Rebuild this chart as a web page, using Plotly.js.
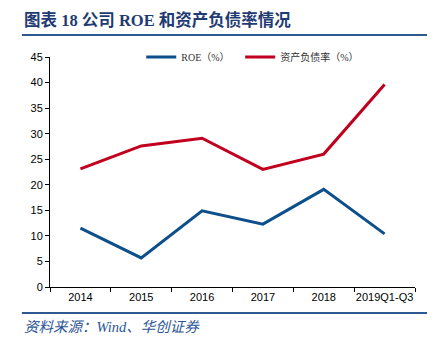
<!DOCTYPE html>
<html>
<head>
<meta charset="utf-8">
<script src="https://cdn.plot.ly/plotly-3.0.1.min.js"></script>
<style>html,body{margin:0;padding:0;background:#fff;}#chart{width:447px;height:352px;}</style>
</head>
<body>
<div id="chart"></div>
<script>
const categories = ['2014', '2015', '2016', '2017', '2018', '2019Q1-Q3'];
const roe = [11.5, 5.7, 14.9, 12.3, 19.1, 10.4];
const debtRatio = [23.1, 27.6, 29.1, 23.0, 26.0, 39.6];
const yTicks = [0, 5, 10, 15, 20, 25, 30, 35, 40, 45];
const seriesNames = ['ROE（%）', '资产负债率（%）'];
const titleText = '图表 18 公司 ROE 和资产负债率情况';
const sourceText = '资料来源：Wind、华创证券';

const traces = [
  {x: categories, y: roe, name: seriesNames[0], type: 'scatter', mode: 'lines',
   line: {color: '#0D4F8B', width: 3}, legend: 'legend'},
  {x: categories, y: debtRatio, name: seriesNames[1], type: 'scatter', mode: 'lines',
   line: {color: '#C0001E', width: 3}, legend: 'legend2'}
];

const legendFont = {family: '"Liberation Serif", "Noto Sans CJK SC", serif', size: 10, color: '#333'};

const layout = {
  width: 447, height: 352,
  margin: {l: 50, r: 32, t: 57, b: 65},
  paper_bgcolor: '#ffffff', plot_bgcolor: '#ffffff',
  showlegend: true,
  legend: {orientation: 'h', x: 0.25, y: 1.0, xanchor: 'left', yanchor: 'middle',
    font: legendFont, bgcolor: 'rgba(0,0,0,0)', itemwidth: 30},
  legend2: {orientation: 'h', x: 0.521, y: 1.0, xanchor: 'left', yanchor: 'middle',
    font: legendFont, bgcolor: 'rgba(0,0,0,0)', itemwidth: 30},
  xaxis: {type: 'category', showgrid: false, zeroline: false, showline: true,
    linecolor: '#000', linewidth: 1, ticks: 'outside', ticklen: 4, tickcolor: '#000',
    tickson: 'boundaries', tickangle: 0,
    tickfont: {family: '"Liberation Sans", Arial, sans-serif', size: 11, color: '#000'},
    range: [-0.5, 5.5]},
  yaxis: {range: [0, 45], tickvals: yTicks, showgrid: false, zeroline: false, showline: true,
    linecolor: '#000', linewidth: 1, ticks: 'outside', ticklen: 4, tickcolor: '#000',
    tickfont: {family: '"Liberation Sans", Arial, sans-serif', size: 11, color: '#000'}},
  annotations: [
    {text: '<b>' + titleText + '</b>', xref: 'paper', yref: 'paper', x: -0.077, y: (287 - 20) / 230,
     xanchor: 'left', yanchor: 'middle', showarrow: false,
     font: {family: '"Liberation Serif", "Noto Sans CJK SC", serif', size: 16.5, color: '#1F3B73'}},
    {text: '<i>' + sourceText + '</i>', xref: 'paper', yref: 'paper', x: -0.077, y: (287 - 327) / 230,
     xanchor: 'left', yanchor: 'middle', showarrow: false,
     font: {family: '"Liberation Serif", "Noto Sans CJK SC", serif', size: 14.5, color: '#2D5597'}}
  ],
  shapes: [
    {type: 'line', xref: 'paper', yref: 'paper', x0: -0.077, x1: 1.033, y0: (287 - 35) / 230, y1: (287 - 35) / 230,
     line: {color: '#2E5A94', width: 2}},
    {type: 'line', xref: 'paper', yref: 'paper', x0: -0.077, x1: 1.033, y0: (287 - 313) / 230, y1: (287 - 313) / 230,
     line: {color: '#2E5A94', width: 2}}
  ]
};

Plotly.newPlot('chart', traces, layout, {displayModeBar: false, staticPlot: true});
</script>
</body>
</html>
